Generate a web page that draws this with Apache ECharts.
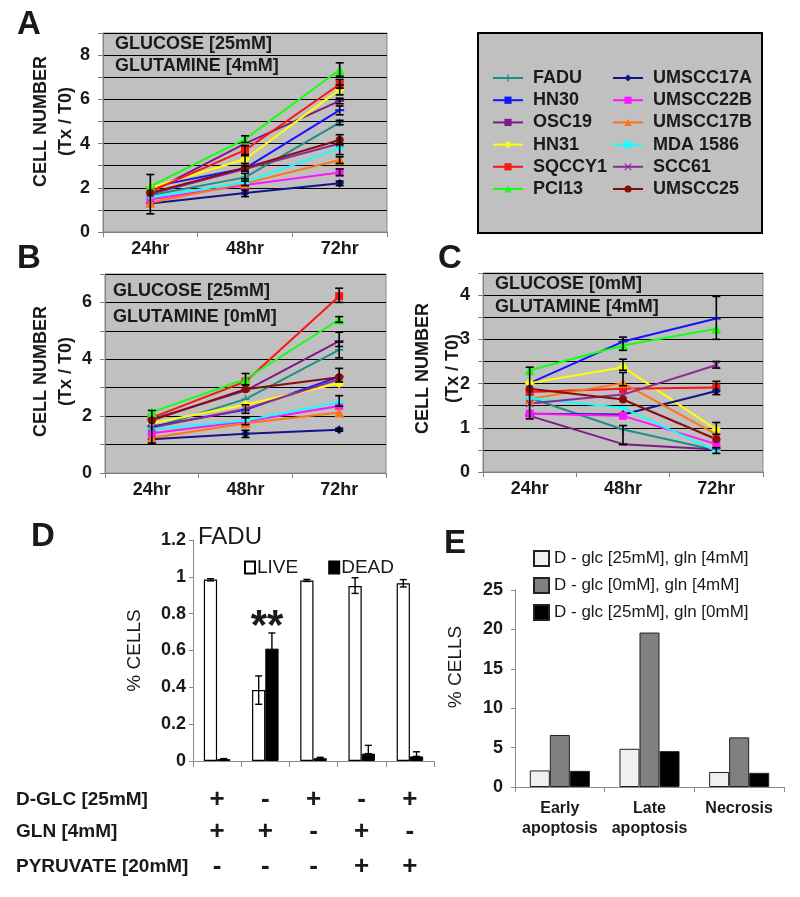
<!DOCTYPE html>
<html><head><meta charset="utf-8">
<script src="https://cdn.jsdelivr.net/npm/echarts@6/dist/echarts.min.js"></script>
<style>html,body{margin:0;padding:0;background:#fff}#c{width:800px;height:897px}</style>
</head><body><div id="c"></div>
<script>
// ---------------- DATA ----------------
const timePoints = ['24hr', '48hr', '72hr'];
const cellLines = ['FADU','HN30','OSC19','HN31','SQCCY1','PCI13','UMSCC17A','UMSCC22B','UMSCC17B','MDA 1586','SCC61','UMSCC25'];

// Panel A: glucose 25mM, glutamine 4mM (rows follow cellLines)
const valuesA = [
  [1.66, 2.47, 4.95],
  [2.03, 2.88, 5.51],
  [1.80, 4.00, 5.93],
  [2.00, 3.29, 6.44],
  [1.84, 3.70, 6.68],
  [2.06, 4.20, 7.34],
  [1.29, 1.76, 2.20],
  [1.47, 2.13, 2.69],
  [1.32, 2.20, 3.26],
  [1.58, 2.24, 3.78],
  [1.72, 2.85, 4.00],
  [1.76, 2.90, 4.16]
];
// Panel B: glucose 25mM, glutamine 0mM
const valuesB = [
  [1.58, 2.60, 4.33],
  [1.64, 2.22, 3.39],
  [1.89, 2.90, 4.64],
  [1.75, 2.40, 3.16],
  [1.95, 3.22, 6.22],
  [2.14, 3.30, 5.40],
  [1.19, 1.38, 1.52],
  [1.40, 1.81, 2.36],
  [1.23, 1.75, 2.13],
  [1.54, 1.85, 2.49],
  [1.60, 2.25, 3.30],
  [1.85, 2.95, 3.37]
];
// Panel C: glucose 0mM, glutamine 4mM
const valuesC = [
  [1.68, 0.96, 0.49],
  [2.01, 2.95, 3.47],
  [1.27, 0.63, 0.51],
  [2.01, 2.37, 0.96],
  [1.81, 1.88, 1.91],
  [2.30, 2.86, 3.24],
  [1.32, 1.30, 1.83],
  [1.32, 1.27, 0.63],
  [1.65, 2.01, 0.85],
  [1.67, 1.45, 0.47],
  [1.55, 1.75, 2.42],
  [1.88, 1.64, 0.74]
];
// error bars: [timeIndex, low, high]
const errorsA = [
  [0, 0.82, 2.60],
  [1, 4.05, 4.35], [1, 3.50, 3.90], [1, 3.10, 3.45], [1, 2.75, 3.00], [1, 2.30, 2.65], [1, 2.10, 2.40], [1, 1.60, 1.90],
  [2, 7.05, 7.65], [2, 6.50, 6.90], [2, 6.20, 6.65], [2, 5.80, 6.05], [2, 5.30, 5.70], [2, 4.85, 5.05],
  [2, 3.95, 4.40], [2, 3.50, 4.00], [2, 3.10, 3.40], [2, 2.55, 2.85], [2, 2.10, 2.30]
];
const errorsB = [
  [0, 1.05, 2.20],
  [1, 3.10, 3.50], [1, 2.10, 2.40], [1, 1.70, 1.95], [1, 1.25, 1.50],
  [2, 6.00, 6.50], [2, 5.30, 5.50], [2, 4.45, 4.95], [2, 4.05, 4.60], [2, 3.20, 3.68], [2, 2.35, 2.72], [2, 1.47, 1.57]
];
const errorsC = [
  [0, 1.20, 2.37],
  [1, 2.75, 3.05], [1, 2.30, 2.55], [1, 1.95, 2.25], [1, 0.62, 1.05],
  [2, 3.00, 3.97], [2, 2.35, 2.50], [2, 1.75, 2.05], [2, 0.85, 1.12], [2, 0.42, 0.55]
];
const panelConditionA = ['GLUCOSE [25mM]', 'GLUTAMINE [4mM]'];
const panelConditionB = ['GLUCOSE [25mM]', 'GLUTAMINE [0mM]'];
const panelConditionC = ['GLUCOSE [0mM]', 'GLUTAMINE [4mM]'];

// Panel D: FADU live / dead fraction
const faduConditions = ['1', '2', '3', '4', '5'];
const faduLive = [0.985, 0.385, 0.980, 0.950, 0.965];
const faduDead = [0.010, 0.610, 0.015, 0.040, 0.025];
// [conditionIndex, 0=live/1=dead, low, high]
const faduErrors = [
  [0, 0, 0.978, 0.990], [1, 0, 0.308, 0.462], [2, 0, 0.975, 0.986], [3, 0, 0.910, 0.995], [4, 0, 0.945, 0.985],
  [0, 1, 0.008, 0.013], [1, 1, 0.525, 0.695], [2, 1, 0.012, 0.020], [3, 1, 0.040, 0.085], [4, 1, 0.025, 0.050]
];
const dGlcRow = ['+', '-', '+', '-', '+'];
const glnRow = ['+', '+', '-', '+', '-'];
const pyruvateRow = ['-', '-', '-', '+', '+'];
const conditionRowLabels = ['D-GLC [25mM]', 'GLN [4mM]', 'PYRUVATE [20mM]'];

// Panel E: % cells by death mode
const deathCategories = ['Early\napoptosis', 'Late\napoptosis', 'Necrosis'];
const deathSeriesNames = ['D - glc [25mM], gln [4mM]', 'D - glc [0mM], gln [4mM]', 'D - glc [25mM], gln [0mM]'];
const deathCtrl = [2.1, 4.85, 1.9];
const deathNoGlc = [6.6, 19.6, 6.3];
const deathNoGln = [2.05, 4.55, 1.8];

// ---------------- STYLE ----------------
const FONT = 'Liberation Sans, Arial, sans-serif';
const TXT = '#1a1a1a';
const lineColors = ['#1f8f86','#1414ff','#7d1a85','#ffff00','#ff1414','#14ff14','#14148a','#ff14ff','#ff7514','#14ffff','#8c2a96','#8a0c0c'];
const symPlus = 'path://M4,0H6V4H10V6H6V10H4V6H0V4H4Z';
const symStar = 'path://M0,1L1,0L5,4L9,0L10,1L6,5L10,9L9,10L5,6L1,10L0,9L4,5Z';
const lineSymbols = [symPlus,'rect','rect','diamond','rect','triangle','diamond','rect','triangle','rect',symStar,'circle'];
const lineSymbolSizes = [8,[9,2],[9,2],10,8,10,9,8,10,[9,3],8,8];

const chart = echarts.init(document.getElementById('c'), null, {renderer: 'canvas'});

const panels = [
  {grid: {left: 103, top: 33, width: 284, height: 199}, max: 9, interval: 1, values: valuesA, errors: errorsA,
   label: v => (v % 2 === 0 ? String(v) : ''), nameGap: 24, namePad: [0, 0, 0, 22], lh: 25},
  {grid: {left: 105, top: 274, width: 281, height: 199}, max: 7, interval: 1, values: valuesB, errors: errorsB,
   label: v => (v % 2 === 0 ? String(v) : ''), nameGap: 26, namePad: [0, 0, 0, 4], lh: 25},
  {grid: {left: 483, top: 273, width: 280, height: 199}, max: 4.5, interval: 0.5, values: valuesC, errors: errorsC,
   label: v => (Number.isInteger(v) ? String(v) : ''), nameGap: 15, namePad: [0, 0, 0, 8], lh: 30}
];

const grids = [], xAxes = [], yAxes = [], series = [];

function errRender(params, api) {
  const x = api.value(0), lo = api.value(1), hi = api.value(2);
  const p1 = api.coord([x, lo]), p2 = api.coord([x, hi]);
  const w = 4, st = {stroke: '#000', lineWidth: 1.6};
  return {type: 'group', children: [
    {type: 'line', shape: {x1: p1[0], y1: p1[1], x2: p2[0], y2: p2[1]}, style: st},
    {type: 'line', shape: {x1: p1[0] - w, y1: p1[1], x2: p1[0] + w, y2: p1[1]}, style: st},
    {type: 'line', shape: {x1: p2[0] - w, y1: p2[1], x2: p2[0] + w, y2: p2[1]}, style: st}
  ]};
}

panels.forEach((p, i) => {
  grids.push(Object.assign({show: true, backgroundColor: '#c0c0c0', borderColor: '#8a8a8a', borderWidth: 1}, p.grid));
  xAxes.push({
    type: 'category', gridIndex: i, data: timePoints, boundaryGap: true,
    axisLine: {lineStyle: {color: '#808080'}},
    axisTick: {show: true, length: 5, lineStyle: {color: '#808080'}},
    axisLabel: {color: TXT, fontFamily: FONT, fontWeight: 'bold', fontSize: 18, margin: 8}
  });
  yAxes.push({
    type: 'value', gridIndex: i, min: 0, max: p.max, interval: p.interval,
    name: 'CELL NUMBER\n(Tx / T0)', nameLocation: 'middle', nameRotate: 90, nameGap: p.nameGap, nameMoveOverlap: false,
    nameTextStyle: {color: TXT, fontFamily: FONT, fontWeight: 'bold', fontSize: 18, lineHeight: p.lh, padding: p.namePad},
    axisLine: {show: true, lineStyle: {color: '#808080'}},
    axisTick: {show: true, length: 5, lineStyle: {color: '#808080'}},
    splitLine: {show: true, lineStyle: {color: '#000', width: 1}},
    axisLabel: {color: TXT, fontFamily: FONT, fontWeight: 'bold', fontSize: 18, margin: 13, formatter: p.label}
  });
  cellLines.forEach((name, k) => {
    series.push({
      type: 'line', name: name, xAxisIndex: i, yAxisIndex: i, data: p.values[k],
      symbol: lineSymbols[k], symbolSize: lineSymbolSizes[k], showSymbol: true,
      itemStyle: {color: lineColors[k]}, lineStyle: {color: lineColors[k], width: 2},
      emphasis: {disabled: true}, animation: false
    });
  });
  series.push({
    type: 'custom', name: 'err' + i, xAxisIndex: i, yAxisIndex: i, data: p.errors,
    encode: {x: 0, y: [1, 2]}, renderItem: errRender, z: 5, silent: true, animation: false
  });
});

// ----- Panel D -----
const gD = grids.length;
grids.push({left: 193, top: 540, width: 241, height: 221});
const xD = xAxes.length;
xAxes.push({
  type: 'category', gridIndex: gD, data: faduConditions,
  axisLine: {lineStyle: {color: '#8a8a8a'}},
  axisTick: {show: true, length: 6, lineStyle: {color: '#8a8a8a'}},
  axisLabel: {show: false}
});
[dGlcRow, glnRow, pyruvateRow].forEach((row, r) => {
  xAxes.push({
    type: 'category', gridIndex: gD, data: row, position: 'bottom', offset: [28, 60, 95][r],
    axisLine: {show: false}, axisTick: {show: false},
    axisLabel: {interval: 0, color: TXT, fontFamily: FONT, fontWeight: 'bold', fontSize: 26, margin: 0, lineHeight: 22}
  });
});
const yD = yAxes.length;
yAxes.push({
  type: 'value', gridIndex: gD, min: 0, max: 1.2, interval: 0.2,
  name: '% CELLS', nameLocation: 'middle', nameRotate: 90, nameGap: 49, nameMoveOverlap: false,
  nameTextStyle: {color: TXT, fontFamily: FONT, fontSize: 19},
  axisLine: {show: true, lineStyle: {color: '#8a8a8a'}},
  axisTick: {show: true, length: 4, lineStyle: {color: '#8a8a8a'}},
  splitLine: {show: false},
  axisLabel: {color: TXT, fontFamily: FONT, fontWeight: 'bold', fontSize: 18, margin: 7,
    formatter: v => String(Math.round(v * 10) / 10)}
});
series.push({
  type: 'bar', name: 'LIVE', xAxisIndex: xD, yAxisIndex: yD, data: faduLive,
  barWidth: '27.5%', barGap: '0%',
  itemStyle: {color: '#ffffff', borderColor: '#000', borderWidth: 1.2}, animation: false
});
series.push({
  type: 'bar', name: 'DEAD', xAxisIndex: xD, yAxisIndex: yD, data: faduDead,
  barWidth: '27.5%', barGap: '0%',
  itemStyle: {color: '#000000', borderColor: '#000', borderWidth: 1}, animation: false
});
series.push({
  type: 'custom', name: 'errD', xAxisIndex: xD, yAxisIndex: yD, data: faduErrors,
  encode: {x: 0, y: [2, 3]}, z: 5, silent: true, animation: false,
  renderItem: function (params, api) {
    const band = api.size([1, 0])[0];
    const off = (api.value(1) ? 1 : -1) * band * 0.1375;
    const p1 = api.coord([api.value(0), api.value(2)]), p2 = api.coord([api.value(0), api.value(3)]);
    const x = p1[0] + off, w = 3.5, st = {stroke: '#000', lineWidth: 1.4};
    return {type: 'group', children: [
      {type: 'line', shape: {x1: x, y1: p1[1], x2: x, y2: p2[1]}, style: st},
      {type: 'line', shape: {x1: x - w, y1: p1[1], x2: x + w, y2: p1[1]}, style: st},
      {type: 'line', shape: {x1: x - w, y1: p2[1], x2: x + w, y2: p2[1]}, style: st}
    ]};
  }
});

// ----- Panel E -----
const gE = grids.length;
grids.push({left: 515, top: 590, width: 269, height: 197});
const xE = xAxes.length;
xAxes.push({
  type: 'category', gridIndex: gE, data: deathCategories,
  axisLine: {lineStyle: {color: '#8a8a8a'}},
  axisTick: {show: true, length: 5, lineStyle: {color: '#8a8a8a'}},
  axisLabel: {interval: 0, color: TXT, fontFamily: FONT, fontWeight: 'bold', fontSize: 16, lineHeight: 20, margin: 12}
});
const yE = yAxes.length;
yAxes.push({
  type: 'value', gridIndex: gE, min: 0, max: 25, interval: 5,
  name: '% CELLS', nameLocation: 'middle', nameRotate: 90, nameGap: 50, nameMoveOverlap: false,
  nameTextStyle: {color: TXT, fontFamily: FONT, fontSize: 19, padding: [0, 0, 0, 43]},
  axisLine: {show: true, lineStyle: {color: '#8a8a8a'}},
  axisTick: {show: true, length: 4, lineStyle: {color: '#8a8a8a'}},
  splitLine: {show: false},
  axisLabel: {color: TXT, fontFamily: FONT, fontWeight: 'bold', fontSize: 18, margin: 12}
});
const deathData = [deathCtrl, deathNoGlc, deathNoGln];
const deathColors = ['#f0f0f0', '#808080', '#000000'];
deathSeriesNames.forEach((n, k) => {
  series.push({
    type: 'bar', name: n, xAxisIndex: xE, yAxisIndex: yE, data: deathData[k],
    barGap: '0%', barCategoryGap: '33%',
    itemStyle: {color: deathColors[k], borderColor: '#222', borderWidth: 1}, animation: false
  });
});

// ----- texts -----
const graphics = [
  {type: 'rect', shape: {x: 478, y: 33, width: 284, height: 200}, style: {fill: '#c0c0c0', stroke: '#000', lineWidth: 2}, z: -1}
];
function addText(txt, x, y, size, weight, extra) {
  graphics.push({type: 'text', x: x, y: y, z: 10, style: Object.assign({
    text: txt, fill: TXT, font: (weight || 'normal') + ' ' + size + 'px ' + FONT, verticalAlign: 'top'
  }, extra || {})});
}
[['A', 17, 8], ['B', 17, 242], ['C', 438, 242], ['D', 31, 520], ['E', 444, 527]].forEach(l => addText(l[0], l[1], l[2], 33, 'bold'));
[[panelConditionA, 115, 35, 57], [panelConditionB, 113, 282, 308], [panelConditionC, 495, 275, 298]].forEach(c => {
  addText(c[0][0], c[1], c[2], 18, 'bold');
  addText(c[0][1], c[1], c[3], 18, 'bold');
});
addText('FADU', 198, 525, 24, 'normal');
addText('**', 267, 606, 42, 'bold', {align: 'center'});
conditionRowLabels.forEach((t, r) => addText(t, 16, [800, 832, 867][r], 19, 'bold', {verticalAlign: 'middle'}));

const legendText = {color: TXT, fontFamily: FONT, fontWeight: 'bold', fontSize: 18, lineHeight: 20, padding: [0, 0, 0, 5]};
const option = {
  animation: false,
  backgroundColor: '#ffffff',
  textStyle: {fontFamily: FONT},
  grid: grids, xAxis: xAxes, yAxis: yAxes, series: series,
  graphic: graphics,
  legend: [
    {data: cellLines.slice(0, 6), orient: 'vertical', left: 487, top: 63, itemWidth: 30, itemHeight: 9, itemGap: 2.2,
     textStyle: legendText, selectedMode: false},
    {data: cellLines.slice(6), orient: 'vertical', left: 607, top: 63, itemWidth: 30, itemHeight: 9, itemGap: 2.2,
     textStyle: legendText, selectedMode: false},
    {data: ['LIVE', 'DEAD'], icon: 'rect', orient: 'horizontal', left: 239, top: 553, itemWidth: 10, itemHeight: 12, itemGap: 30,
     textStyle: {color: TXT, fontFamily: FONT, fontSize: 19, padding: [0, 0, 0, -3]}, selectedMode: false},
    {data: deathSeriesNames, icon: 'rect', orient: 'vertical', left: 528, top: 545, itemWidth: 15, itemHeight: 15, itemGap: 10,
     textStyle: {color: TXT, fontFamily: FONT, fontSize: 17}, selectedMode: false}
  ]
};
chart.setOption(option);
</script></body></html>
